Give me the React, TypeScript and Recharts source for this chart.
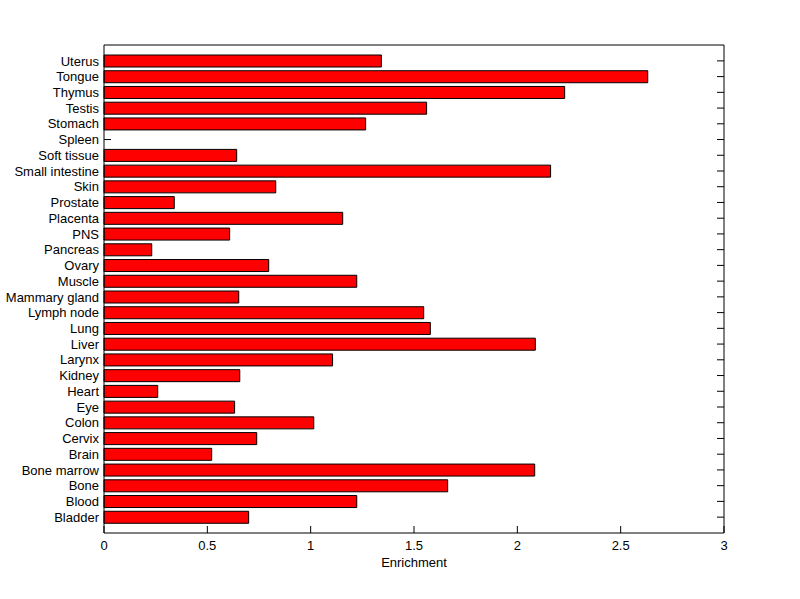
import { BarChart, Bar, XAxis, YAxis } from 'recharts'

const tissues = [
  'Uterus', 'Tongue', 'Thymus', 'Testis', 'Stomach', 'Spleen', 'Soft tissue',
  'Small intestine', 'Skin', 'Prostate', 'Placenta', 'PNS', 'Pancreas', 'Ovary',
  'Muscle', 'Mammary gland', 'Lymph node', 'Lung', 'Liver', 'Larynx', 'Kidney',
  'Heart', 'Eye', 'Colon', 'Cervix', 'Brain', 'Bone marrow', 'Bone', 'Blood', 'Bladder',
]

const enrichment = [
  1.342, 2.631, 2.229, 1.561, 1.266, 0, 0.642,
  2.161, 0.831, 0.34, 1.155, 0.608, 0.231, 0.797,
  1.223, 0.652, 1.547, 1.579, 2.087, 1.106, 0.657,
  0.26, 0.632, 1.015, 0.739, 0.521, 2.084, 1.663, 1.223, 0.7,
]

const xTicks = [0, 0.5, 1, 1.5, 2, 2.5, 3]

const data = tissues.map((name, i) => ({ name, value: enrichment[i] }))
const valueByName: Record<string, number> = Object.fromEntries(data.map((d) => [d.name, d.value]))

const FONT = '"Liberation Sans", Arial, sans-serif'
const TICK = 7

function BottomTick({ x, y, payload }: any) {
  return (
    <g>
      <line x1={x} x2={x} y1={y} y2={y - TICK} stroke="#000" />
      <text x={x} y={y + 17} textAnchor="middle" fontSize={13} fontFamily={FONT} fill="#000">
        {payload.value}
      </text>
    </g>
  )
}

function TopTick({ x, y }: any) {
  return <line x1={x} x2={x} y1={y} y2={y + TICK} stroke="#000" />
}

function LeftTick({ x, y, payload }: any) {
  // ticks sit underneath the bars, so only the empty row shows its tick
  const hidden = valueByName[payload.value] > 0
  return (
    <g>
      {!hidden && <line x1={x} x2={x + TICK} y1={y} y2={y} stroke="#000" />}
      <text x={x - 5} y={y} dy="0.36em" textAnchor="end" fontSize={13} fontFamily={FONT} fill="#000">
        {payload.value}
      </text>
    </g>
  )
}

function RightTick({ x, y }: any) {
  return <line x1={x} x2={x - TICK} y1={y} y2={y} stroke="#000" />
}

export default function App() {
  return (
    <div style={{ position: 'absolute', left: 0, top: 0, width: 800, height: 599, background: '#fff' }}>
      <BarChart
        width={800}
        height={599}
        data={data}
        layout="vertical"
        margin={{ top: 44, right: 75, bottom: 26, left: 4 }}
      >
        <XAxis
          type="number"
          domain={[0, 3]}
          ticks={xTicks}
          interval={0}
          height={40}
          tickSize={0}
          tickMargin={0}
          tickLine={false}
          axisLine={{ stroke: '#000' }}
          tick={BottomTick}
          label={{ value: 'Enrichment', position: 'insideBottom', offset: 6, fontSize: 13, fontFamily: FONT, fill: '#000' }}
        />
        <XAxis
          xAxisId="top"
          orientation="top"
          type="number"
          domain={[0, 3]}
          ticks={xTicks}
          interval={0}
          height={1}
          tickSize={0}
          tickMargin={0}
          tickLine={false}
          axisLine={{ stroke: '#000' }}
          tick={TopTick}
        />
        <YAxis
          type="category"
          dataKey="name"
          width={100}
          interval={0}
          padding={{ top: 8, bottom: 8 }}
          tickSize={0}
          tickMargin={0}
          tickLine={false}
          axisLine={{ stroke: '#000' }}
          tick={LeftTick}
        />
        <YAxis
          yAxisId="right"
          orientation="right"
          type="category"
          dataKey="name"
          width={1}
          interval={0}
          padding={{ top: 8, bottom: 8 }}
          tickSize={0}
          tickMargin={0}
          tickLine={false}
          axisLine={{ stroke: '#000' }}
          tick={RightTick}
        />
        <Bar dataKey="value" fill="#ff0000" stroke="#000" strokeWidth={1} barSize={12} isAnimationActive={false} />
      </BarChart>
    </div>
  )
}
